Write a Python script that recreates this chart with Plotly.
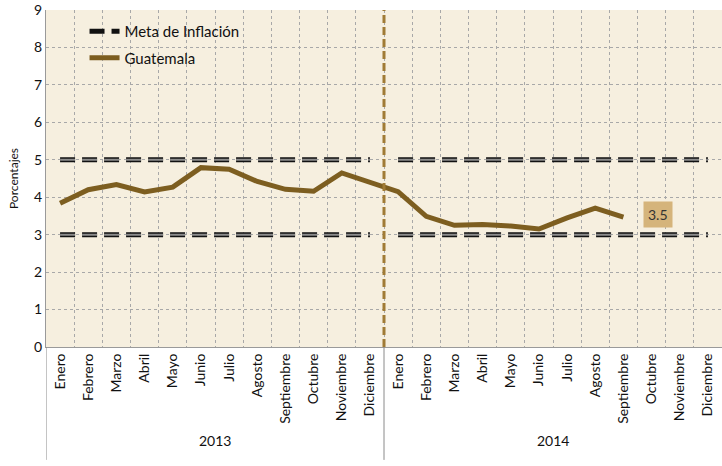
import plotly.graph_objects as go

# Data
months = ["Enero", "Febrero", "Marzo", "Abril", "Mayo", "Junio", "Julio",
          "Agosto", "Septiembre", "Octubre", "Noviembre", "Diciembre"]
years = ["2013", "2014"]
guatemala_2013 = [3.84, 4.20, 4.34, 4.14, 4.27, 4.79, 4.75, 4.42, 4.21, 4.16, 4.65, 4.39]
guatemala_2014 = [4.15, 3.49, 3.25, 3.27, 3.23, 3.15, 3.45, 3.71, 3.47]
meta_low = 3
meta_high = 5
last_label = "3.5"

FONT = "Lato, 'Open Sans', sans-serif"
LINE_BROWN = "#7D5E20"
BG = "#F6EFDF"
GRID = "#A8A8A8"

n = len(months)
tick_labels = months * len(years)
positions = list(range(n * len(years)))

gt_values = guatemala_2013 + guatemala_2014
gt_x = positions[:len(gt_values)]

fig = go.Figure()

# Inflation target lines: black outline + grey core, one segment per year
for i, year in enumerate(years):
    xx = positions[i * n:(i + 1) * n]
    for level in [meta_high, meta_low]:
        fig.add_trace(go.Scatter(
            x=xx, y=[level] * n, mode="lines",
            line=dict(color="#111111", width=5, dash="15px,7px"),
            name="Meta de Inflación", legendgroup="meta",
            showlegend=(i == 0 and level == meta_high),
            hoverinfo="skip",
        ))
        fig.add_trace(go.Scatter(
            x=xx, y=[level] * n, mode="lines",
            line=dict(color="#8C8C8C", width=2, dash="15px,7px"),
            legendgroup="meta", showlegend=False, hoverinfo="skip",
        ))

fig.add_trace(go.Scatter(
    x=gt_x, y=gt_values, mode="lines",
    line=dict(color=LINE_BROWN, width=5),
    name="Guatemala",
))

# Vertical dashed separator between years
fig.add_shape(
    type="line", xref="x", yref="y",
    x0=n - 0.5, x1=n - 0.5, y0=0, y1=9,
    line=dict(color="#A07B35", width=3, dash="8px,4px"),
)

# Year group labels and dividers below the axis
for i, year in enumerate(years):
    fig.add_annotation(
        x=i * n + (n - 1) / 2, y=-0.31, xref="x", yref="paper",
        text=year, showarrow=False,
        font=dict(family=FONT, size=14, color="#111111"),
    )
for i in range(len(years)):
    fig.add_shape(
        type="line", xref="x", yref="paper",
        x0=i * n - 0.5, x1=i * n - 0.5, y0=0, y1=-0.335,
        line=dict(color="#8A8A8A", width=1),
    )

# Label for the last observation
fig.add_annotation(
    x=gt_x[-1], y=gt_values[-1],
    text=last_label, showarrow=False, xshift=35, yshift=3,
    bgcolor="#D5B47B", borderpad=4,
    font=dict(family=FONT, size=14, color="#333333"),
)

fig.update_layout(
    width=722, height=466,
    margin=dict(l=46, r=0, t=10, b=119),
    paper_bgcolor="white",
    plot_bgcolor=BG,
    font=dict(family=FONT, size=14, color="#111111"),
    showlegend=True,
    legend=dict(
        x=0.057, y=0.985, xanchor="left", yanchor="top",
        bgcolor="rgba(0,0,0,0)", font=dict(size=15, color="#111111"),
        tracegroupgap=4,
    ),
    xaxis=dict(
        range=[-0.5, len(positions) - 0.5],
        tickmode="array", tickvals=positions, ticktext=tick_labels,
        tickangle=-90, tickfont=dict(size=14),
        showgrid=False,
        minor=dict(tickmode="linear", tick0=-0.5, dtick=1, showgrid=True,
                   gridcolor=GRID, griddash="dot", gridwidth=1, ticks=""),
        showline=True, linecolor="#9A9A9A", linewidth=1,
        ticks="", zeroline=False, automargin=False,
    ),
    yaxis=dict(
        range=[0, 9], dtick=1, tick0=0,
        showgrid=True, gridcolor=GRID, griddash="dot", gridwidth=1,
        showline=True, linecolor="#9A9A9A", linewidth=1,
        ticks="", zeroline=False, tickfont=dict(size=14), automargin=False,
        title=dict(text="Porcentajes", font=dict(size=12), standoff=12),
    ),
)

# drop the default page margin so the figure sits at the window's corner
fig.write_html("out.html", config={"displayModeBar": False},
               post_script="document.body.style.margin='0';")
